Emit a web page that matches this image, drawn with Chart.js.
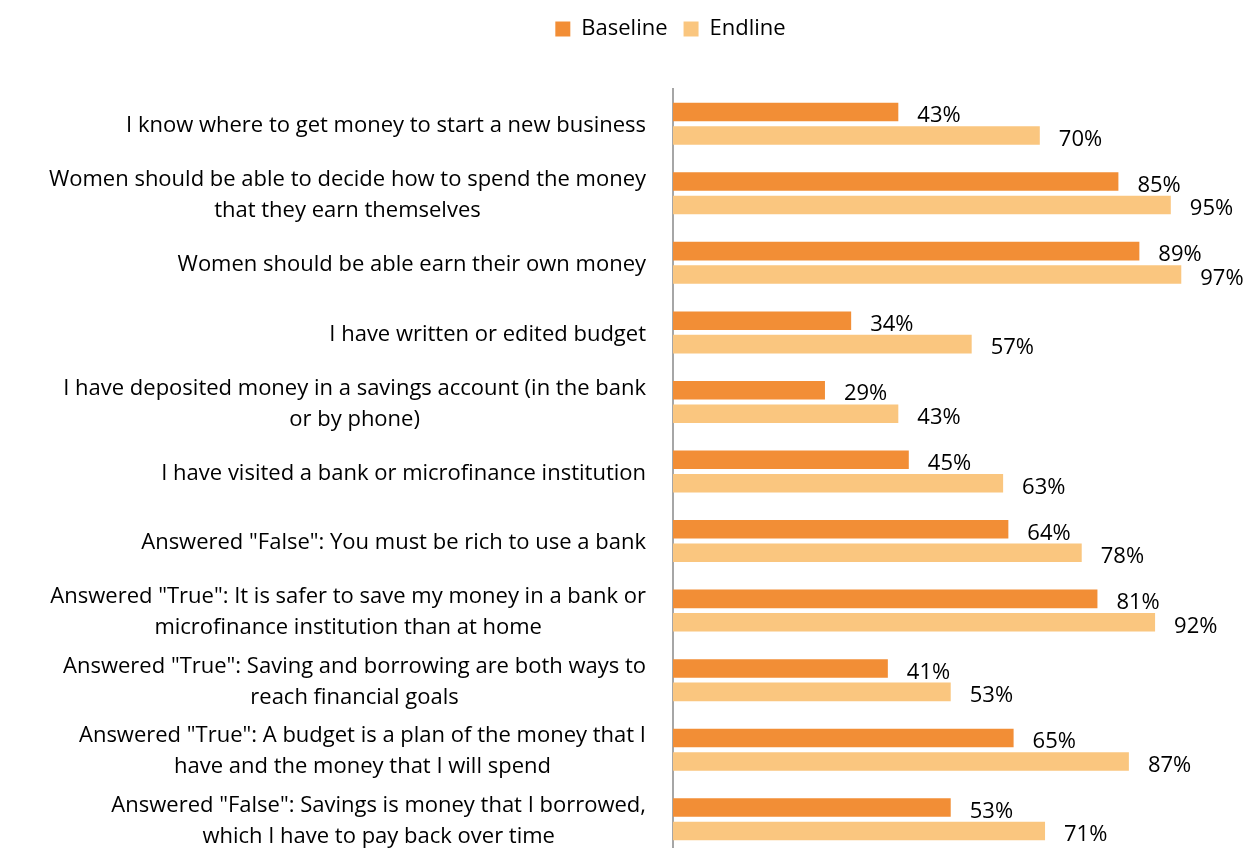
<!DOCTYPE html>
<html>
<head>
<meta charset="utf-8">
<script src="https://cdn.jsdelivr.net/npm/chart.js@4.4.1/dist/chart.umd.min.js"></script>
<style>
  html, body { margin: 0; padding: 0; background: #fff; overflow: hidden; }
  #wrap { width: 1246px; height: 860px; }
</style>
</head>
<body>
<div id="wrap"><canvas id="myChart"></canvas></div>
<script>
const categories = [
  ["I know where to get money to start a new business"],
  ["Women should be able to decide how to spend the money", "that they earn themselves"],
  ["Women should be able earn their own money"],
  ["I have written or edited budget"],
  ["I have deposited money in a savings account (in the bank", "or by phone)"],
  ["I have visited a bank or microfinance institution"],
  ['Answered "False": You must be rich to use a bank'],
  ['Answered "True": It is safer to save my money in a bank or', "microfinance institution than at home"],
  ['Answered "True": Saving and borrowing are both ways to', "reach financial goals"],
  ['Answered "True": A budget is a plan of the money that I', "have and the money that I will spend"],
  ['Answered "False": Savings is money that I borrowed,', "which I have to pay back over time"]
];
const baseline = [43, 85, 89, 34, 29, 45, 64, 81, 41, 65, 53];
const endline = [70, 95, 97, 57, 43, 63, 78, 92, 53, 87, 71];

const FONT = '"Open Sans", "DejaVu Sans", sans-serif';
const FSIZE = 22;

// value labels to the right of each bar
const valueLabels = {
  id: "valueLabels",
  afterDatasetsDraw(chart) {
    const ctx = chart.ctx;
    ctx.save();
    ctx.font = FSIZE + "px " + FONT;
    ctx.fillStyle = "#000";
    ctx.textAlign = "left";
    ctx.textBaseline = "middle";
    chart.data.datasets.forEach((ds, i) => {
      chart.getDatasetMeta(i).data.forEach((bar, j) => {
        ctx.fillText(ds.data[j] + "%", bar.x + 19, bar.y + 4);
      });
    });
    ctx.restore();
  }
};

// category labels: right aligned block, lines centred inside the block
const catLabels = {
  id: "catLabels",
  afterDraw(chart) {
    const ctx = chart.ctx;
    const y = chart.scales.y;
    const right = chart.chartArea.left - 27;
    const lh = 31;
    ctx.save();
    ctx.font = FSIZE + "px " + FONT;
    ctx.fillStyle = "#000";
    ctx.textAlign = "center";
    ctx.textBaseline = "middle";
    categories.forEach((lines, i) => {
      const w = Math.max(...lines.map(l => ctx.measureText(l).width));
      const cx = right - w / 2;
      const cy = y.getPixelForValue(i) + 2;
      const top = cy - (lines.length - 1) * lh / 2;
      lines.forEach((l, k) => ctx.fillText(l, cx, top + k * lh));
    });
    ctx.restore();
  }
};

// extra space under the legend, and legend pushed right like the original
const legendGap = {
  id: "legendGap",
  beforeInit(chart) {
    const fit = chart.legend.fit;
    chart.legend.fit = function () {
      fit.bind(chart.legend)();
      this.height += 39;
    };
  },
  afterLayout(chart) {
    chart.legend.left += 72;
    chart.legend.right += 72;
  }
};

new Chart(document.getElementById("myChart"), {
  type: "bar",
  data: {
    labels: categories.map(c => c.join(" ")),
    datasets: [
      {
        label: "Baseline",
        data: baseline,
        backgroundColor: "#f28e36",
        categoryPercentage: 0.675,
        barPercentage: 0.79
      },
      {
        label: "Endline",
        data: endline,
        backgroundColor: "#fac67f",
        categoryPercentage: 0.675,
        barPercentage: 0.79
      }
    ]
  },
  options: {
    indexAxis: "y",
    responsive: true,
    maintainAspectRatio: false,
    animation: false,
    layout: { padding: { top: 2, right: 49, bottom: 6, left: 0 } },
    plugins: {
      legend: {
        position: "top",
        labels: {
          boxWidth: 15,
          boxHeight: 15,
          padding: 16,
          color: "#000",
          font: { family: FONT, size: FSIZE }
        }
      },
      tooltip: { enabled: false }
    },
    scales: {
      x: {
        display: false,
        min: 0,
        max: 100
      },
      y: {
        afterFit(scale) { scale.width = 673; },
        grid: { display: false, drawTicks: false },
        border: { display: true, color: "#a6a6a6", width: 2 },
        ticks: { display: false }
      }
    }
  },
  plugins: [valueLabels, catLabels, legendGap]
});
</script>
</body>
</html>
